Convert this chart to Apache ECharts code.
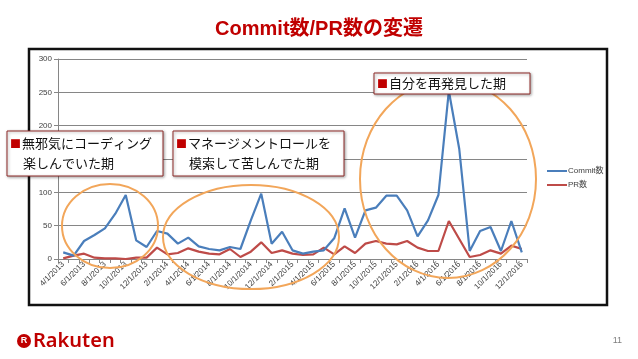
<!DOCTYPE html>
<html><head><meta charset="utf-8">
<script src="https://cdn.jsdelivr.net/npm/echarts@6/dist/echarts.min.js"></script>
<style>html,body{margin:0;padding:0;background:#fff}#c{width:638px;height:359px}</style>
</head><body><div id="c"></div>
<script>
var categories = ["4/1/2013","5/1/2013","6/1/2013","7/1/2013","8/1/2013","9/1/2013","10/1/2013","11/1/2013","12/1/2013",
"1/1/2014","2/1/2014","3/1/2014","4/1/2014","5/1/2014","6/1/2014","7/1/2014","8/1/2014","9/1/2014","10/1/2014","11/1/2014","12/1/2014",
"1/1/2015","2/1/2015","3/1/2015","4/1/2015","5/1/2015","6/1/2015","7/1/2015","8/1/2015","9/1/2015","10/1/2015","11/1/2015","12/1/2015",
"1/1/2016","2/1/2016","3/1/2016","4/1/2016","5/1/2016","6/1/2016","7/1/2016","8/1/2016","9/1/2016","10/1/2016","11/1/2016","12/1/2016"];
var commits = [10,5,27,36,46,68,96,28,18,42,38,23,32,19,15,13,18,15,58,98,23,41,13,8,11,13,31,76,32,73,77,95,95,73,34,58,96,252,165,12,42,48,12,57,10];
var prs = [1,5,8,2,1,1,0,2,2,17,7,9,16,11,8,7,15,3,11,25,9,13,8,6,7,17,7,19,9,23,27,23,22,27,17,12,12,57,30,3,6,13,8,20,15];
var yTicks = [0,50,100,150,200,250,300];
var seriesNames = ["Commit数","PR数"];
var titleText = "Commit数/PR数の変遷";
var notes = [
  ["無邪気にコーディング","楽しんでいた期"],
  ["マネージメントロールを","模索して苦しんでた期"],
  ["自分を再発見した期"]
];

var chart = echarts.init(document.getElementById('c'));
var jp = '"Noto Sans CJK JP", "Liberation Sans", sans-serif';
var axisFont = '"Liberation Sans", "Noto Sans CJK JP", sans-serif';
var orange = '#F2A65A';
var boxBorder = '#8E2A28';

function noteBox(x, y, w, h, lines) {
  var txt = '{b|■}' + lines[0];
  if (lines.length > 1) txt += '\n{i|}' + lines[1];
  return [
    {type: 'rect', z: 100, shape: {x: x, y: y, width: w, height: h},
     style: {fill: '#ffffff', stroke: boxBorder, lineWidth: 1, shadowBlur: 3, shadowColor: 'rgba(0,0,0,0.35)', shadowOffsetX: 1, shadowOffsetY: 1}},
    {type: 'text', z: 101, x: x + 3, y: y + h / 2,
     style: {text: txt, fill: '#111', font: '13px ' + jp, verticalAlign: 'middle', align: 'left', lineHeight: 20,
       rich: {b: {fill: '#C00000', fontSize: 11, fontFamily: jp, lineHeight: 20, padding: [0, 1, 0, 0]}, i: {width: 13, lineHeight: 20}}}}
  ];
}

var graphics = [
  {type: 'rect', z: 1, shape: {x: 29, y: 49, width: 578, height: 256}, style: {fill: 'none', stroke: '#111', lineWidth: 2.5}},
  {type: 'ellipse', z: 90, shape: {cx: 110, cy: 226, rx: 48, ry: 42}, style: {fill: 'none', stroke: orange, lineWidth: 2}},
  {type: 'ellipse', z: 90, shape: {cx: 251, cy: 237, rx: 88, ry: 52}, style: {fill: 'none', stroke: orange, lineWidth: 2}},
  {type: 'ellipse', z: 90, shape: {cx: 448, cy: 179, rx: 88, ry: 99}, style: {fill: 'none', stroke: orange, lineWidth: 2}}
].concat(noteBox(7, 131, 156, 45, notes[0]), noteBox(173, 131, 171, 45, notes[1]), noteBox(374, 73, 156, 21, notes[2]), [
  {type: 'circle', z: 100, shape: {cx: 24, cy: 341, r: 7}, style: {fill: '#BF0000'}},
  {type: 'text', z: 101, x: 24, y: 341, style: {text: 'R', fill: '#fff', font: 'bold 9px ' + axisFont, align: 'center', verticalAlign: 'middle'}},
  {type: 'text', z: 101, x: 33, y: 341, style: {text: 'Rakuten', fill: '#BF0000', font: '600 20px "Noto Sans", sans-serif', align: 'left', verticalAlign: 'middle'}},
  {type: 'text', z: 101, x: 622, y: 341, style: {text: '11', fill: '#7F7F7F', font: '9px ' + axisFont, align: 'right', verticalAlign: 'middle'}}
]);

chart.setOption({
  animation: false,
  title: {text: titleText, left: 'center', top: 14,
    textStyle: {color: '#C00000', fontSize: 20, fontWeight: 'bold', fontFamily: axisFont}},
  grid: {left: 58, right: 111, top: 59, bottom: 100, containLabel: false},
  legend: {
    data: seriesNames, orient: 'vertical', left: 542, top: 162, itemWidth: 20, itemHeight: 2, itemGap: 6,
    icon: 'rect', textStyle: {fontSize: 8, color: '#404040', fontFamily: axisFont, padding: [0, 0, 0, -4]}
  },
  xAxis: {
    type: 'category', data: categories, boundaryGap: true,
    axisLine: {lineStyle: {color: '#868686'}},
    axisTick: {show: true, length: 4, interval: 0, lineStyle: {color: '#868686'}},
    axisLabel: {rotate: 45, interval: 1, fontSize: 8, color: '#404040', fontFamily: axisFont, margin: 4},
    splitLine: {show: false}
  },
  yAxis: {
    type: 'value', min: yTicks[0], max: yTicks[yTicks.length - 1], interval: 50,
    axisLine: {show: true, lineStyle: {color: '#868686'}},
    axisTick: {show: true, length: 4, lineStyle: {color: '#868686'}},
    axisLabel: {fontSize: 8, color: '#404040', fontFamily: axisFont, margin: 6},
    splitLine: {lineStyle: {color: '#868686', width: 1}}
  },
  series: [
    {name: seriesNames[0], type: 'line', data: commits, symbol: 'none', color: '#4A7EBB', lineStyle: {width: 2.2, color: '#4A7EBB'}, z: 3},
    {name: seriesNames[1], type: 'line', data: prs, symbol: 'none', color: '#BE4B48', lineStyle: {width: 2.2, color: '#BE4B48'}, z: 2}
  ],
  graphic: {elements: graphics}
});
</script></body></html>
